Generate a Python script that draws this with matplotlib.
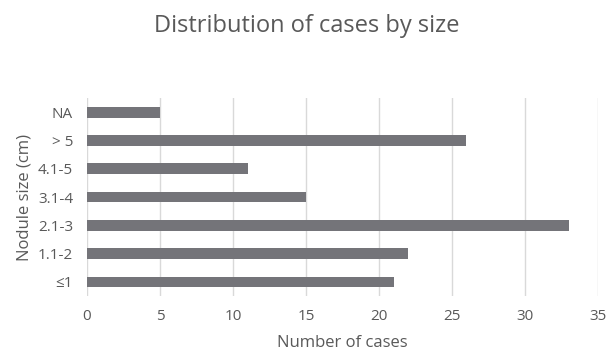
import matplotlib
matplotlib.use("Agg")
import matplotlib.pyplot as plt

categories = ["≤1", "1.1-2", "2.1-3", "3.1-4", "4.1-5", "> 5", "NA"]
cases = [21, 22, 33, 15, 11, 26, 5]
x_ticks = [0, 5, 10, 15, 20, 25, 30, 35]

plt.rcParams["font.family"] = ["Open Sans", "DejaVu Sans"]
text_color = "#595959"

fig = plt.figure(figsize=(6.14, 3.52), dpi=100)
ax = fig.add_axes([0.1417, 0.159, 0.832, 0.5626])

ax.barh(range(len(categories)), cases, height=0.38, color="#747479", zorder=3)

ax.set_xlim(0, 35)
ax.set_ylim(-0.5, len(categories) - 0.5)
ax.set_xticks(x_ticks)
ax.set_yticks(range(len(categories)))
ax.set_yticklabels(categories)
ax.grid(axis="x", color="#d9d9d9", linewidth=1, zorder=0)
for s in ax.spines.values():
    s.set_visible(False)
ax.tick_params(axis="both", length=0, labelsize=11, colors=text_color)
ax.tick_params(axis="x", pad=9)
ax.tick_params(axis="y", pad=10)

ax.set_xlabel("Number of cases", fontsize=12, color=text_color, labelpad=8)
ax.set_ylabel("Nodule size (cm)", fontsize=12, color=text_color, labelpad=4)
fig.text(0.5, 0.925, "Distribution of cases by size", ha="center", va="center",
         fontsize=17, color=text_color)

fig.savefig("out.png", dpi=100)
